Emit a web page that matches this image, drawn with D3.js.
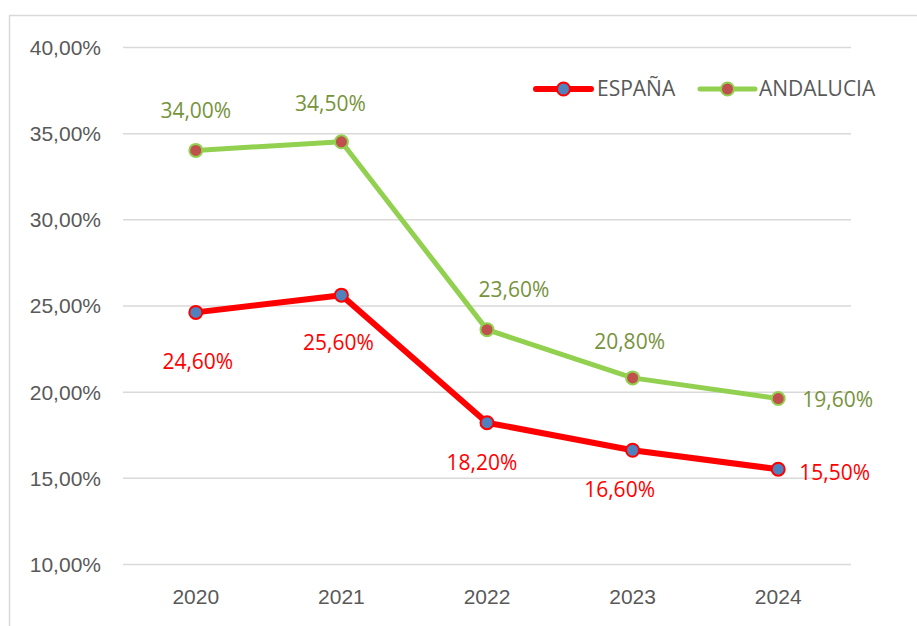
<!DOCTYPE html>
<html>
<head>
<meta charset="utf-8">
<script src="https://cdn.jsdelivr.net/npm/d3@7"></script>
<style>
  html, body { margin: 0; padding: 0; background: #fff; }
  svg { display: block; font-family: "Open Sans", "Noto Sans", sans-serif; }
  .tick text { fill: #595959; font-size: 21px; }
  .grid line { stroke: #d9d9d9; stroke-width: 1.5; }
  .domain { display: none; }
</style>
</head>
<body>
<svg id="chart" width="917" height="626"></svg>
<script>
const years = ['2020', '2021', '2022', '2023', '2024']
const espana = [24.6, 25.6, 18.2, 16.6, 15.5]
const andalucia = [34.0, 34.5, 23.6, 20.8, 19.6]
const yTicks = [10, 15, 20, 25, 30, 35, 40]

// hand placed label offsets, like the original chart [dx, dy, anchor]
const espanaLabelPos = [[2, 57, 'middle'], [-3, 55, 'middle'], [-5, 47, 'middle'], [-13, 47, 'middle'], [21, 11, 'start']]
const andaluciaLabelPos = [[0, -32, 'middle'], [-11, -31, 'middle'], [27, -33, 'middle'], [-3, -29, 'middle'], [24, 8, 'start']]

const W = 917, H = 626
const margin = { top: 47, right: 66, bottom: 62, left: 123 }
const innerW = W - margin.left - margin.right
const innerH = H - margin.top - margin.bottom

const locale = d3.formatLocale({ decimal: ',', thousands: '.', grouping: [3], currency: ['', '€'] })
const pct = v => locale.format('.2f')(v) + '%'

const svg = d3.select('#chart')

// chart area border (only left and top edges visible)
svg.append('line').attr('x1', 9.5).attr('x2', 9.5).attr('y1', 15).attr('y2', H)
  .attr('stroke', '#d9d9d9').attr('stroke-width', 1.5)
svg.append('line').attr('x1', 9).attr('x2', W).attr('y1', 15.5).attr('y2', 15.5)
  .attr('stroke', '#d9d9d9').attr('stroke-width', 1.5)

const g = svg.append('g').attr('transform', `translate(${margin.left},${margin.top})`)

const x = d3.scaleBand().domain(years).range([0, innerW])
const y = d3.scaleLinear().domain([10, 40]).range([innerH, 0])
const cx = d => x(d) + x.bandwidth() / 2

g.append('g').attr('class', 'grid')
  .call(d3.axisLeft(y).tickValues(yTicks).tickSize(-innerW).tickPadding(22).tickFormat(pct))
  .selectAll('.tick text').attr('dy', '0.35em')

g.append('g').attr('class', 'xaxis')
  .attr('transform', `translate(0,${innerH})`)
  .call(d3.axisBottom(x).tickSize(0).tickPadding(25))
  .call(s => s.select('.domain').remove())

const series = [
  { name: 'ESPAÑA', values: espana, line: '#ff0000', width: 6, fill: '#4f81bd', stroke: '#ff0000', label: '#ff0000', pos: espanaLabelPos },
  { name: 'ANDALUCIA', values: andalucia, line: '#92d050', width: 5, fill: '#c0504d', stroke: '#92d050', label: '#77933c', pos: andaluciaLabelPos }
]

const line = d3.line().x((d, i) => cx(years[i])).y(d => y(d))

series.forEach(s => {
  g.append('path').datum(s.values)
    .attr('fill', 'none')
    .attr('stroke', s.line)
    .attr('stroke-width', s.width)
    .attr('stroke-linejoin', 'round')
    .attr('d', line)

  g.selectAll(null).data(s.values).join('circle')
    .attr('cx', (d, i) => cx(years[i]))
    .attr('cy', d => y(d))
    .attr('r', 6.5)
    .attr('fill', s.fill)
    .attr('stroke', s.stroke)
    .attr('stroke-width', 2)

  g.selectAll(null).data(s.values).join('text')
    .attr('x', (d, i) => cx(years[i]) + s.pos[i][0])
    .attr('y', (d, i) => y(d) + s.pos[i][1])
    .attr('text-anchor', (d, i) => s.pos[i][2])
    .attr('fill', s.label)
    .style('font-size', '21px')
    .text(d => pct(d))
})

// legend
const legendY = 89
const legend = svg.append('g')
const items = [{ s: series[0], x0: 536, tx: 597 }, { s: series[1], x0: 700, tx: 759 }]
items.forEach(it => {
  legend.append('line').attr('x1', it.x0).attr('x2', it.x0 + 55)
    .attr('y1', legendY).attr('y2', legendY)
    .attr('stroke', it.s.line).attr('stroke-width', it.s.width).attr('stroke-linecap', 'round')
  legend.append('circle').attr('cx', it.x0 + 27.5).attr('cy', legendY).attr('r', 6.5)
    .attr('fill', it.s.fill).attr('stroke', it.s.stroke).attr('stroke-width', 2)
  legend.append('text').attr('x', it.tx).attr('y', legendY).attr('dy', '0.35em')
    .attr('fill', '#595959').style('font-size', '21px')
    .text(it.s.name)
})
</script>
</body>
</html>
